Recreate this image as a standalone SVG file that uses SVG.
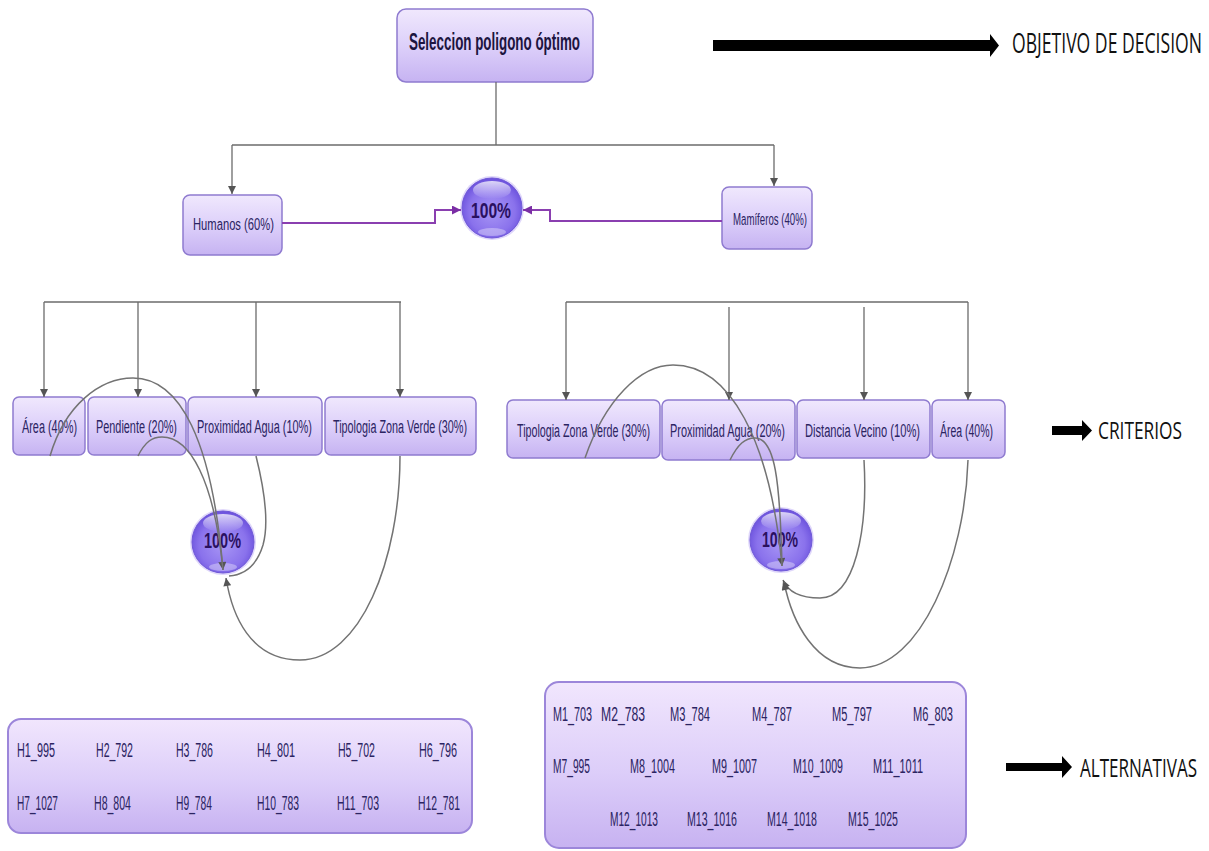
<svg xmlns="http://www.w3.org/2000/svg" width="1209" height="851" viewBox="0 0 1209 851">
<defs>
<linearGradient id="bg" x1="0" y1="0" x2="0" y2="1">
<stop offset="0" stop-color="#f0e8fd"/>
<stop offset="0.5" stop-color="#ddd0fa"/>
<stop offset="1" stop-color="#c6b3f2"/>
</linearGradient>
<linearGradient id="bg2" x1="0" y1="0" x2="0" y2="1">
<stop offset="0" stop-color="#f1e6fd"/>
<stop offset="0.55" stop-color="#dccdf9"/>
<stop offset="1" stop-color="#c7b2f1"/>
</linearGradient>
<radialGradient id="ball" cx="0.5" cy="0.55" r="0.55">
<stop offset="0" stop-color="#a896f5"/>
<stop offset="0.7" stop-color="#8a72ec"/>
<stop offset="1" stop-color="#6a50dc"/>
</radialGradient>
<linearGradient id="hl" x1="0" y1="0" x2="0" y2="1">
<stop offset="0" stop-color="#ffffff" stop-opacity="0.75"/>
<stop offset="1" stop-color="#ffffff" stop-opacity="0"/>
</linearGradient>
<marker id="ag" viewBox="0 0 10 10" refX="10" refY="5" markerWidth="10" markerHeight="8" markerUnits="userSpaceOnUse" orient="auto">
<path d="M0,0 L10,5 L0,10 z" fill="#555"/>
</marker>
<marker id="ap" viewBox="0 0 10 10" refX="10" refY="5" markerWidth="9" markerHeight="9" markerUnits="userSpaceOnUse" orient="auto">
<path d="M0,0 L10,5 L0,10 z" fill="#7b2ea5"/>
</marker>
</defs>
<style>
.box{fill:url(#bg);stroke:#8f7bd0;stroke-width:1.5}
.big{fill:url(#bg2);stroke:#9c86da;stroke-width:2}
.t{font-family:"Liberation Sans",Arial,sans-serif;fill:#2b2462;font-size:19px}
.s{font-size:20px}
.h{font-size:17px}
.tt{font-family:"Liberation Sans",Arial,sans-serif;fill:#1c1440;font-size:24px;font-weight:bold}
.pc{font-family:"Liberation Sans",Arial,sans-serif;fill:#2a1060;font-size:22px;font-weight:bold}
.lab{font-family:"Open Sans","Liberation Sans",sans-serif;fill:#111;font-size:26px}
.g{fill:none;stroke:#6b6b6b;stroke-width:1.3}
.c{fill:none;stroke:#737373;stroke-width:1.5}
.p{fill:none;stroke:#8a3fb0;stroke-width:2}
.blk{fill:#000}
</style>
<rect width="1209" height="851" fill="#ffffff"/>

<g id="title">
<rect class="box" x="397" y="9" width="196" height="73" rx="9"/>
<text class="tt" x="409" y="50" textLength="171" lengthAdjust="spacingAndGlyphs">Seleccion poligono óptimo</text>
</g>

<g id="humanos">
<rect class="box" x="183" y="195" width="99" height="60" rx="7"/>
<g transform="scale(0.6 1)"><text class="t h" x="321.67" y="230" textLength="135" lengthAdjust="spacingAndGlyphs">Humanos (60%)</text></g>
</g>
<g id="mamiferos">
<rect class="box" x="722" y="187" width="90" height="62" rx="7"/>
<g transform="scale(0.6 1)"><text class="t h" x="1221.67" y="225" textLength="123.33" lengthAdjust="spacingAndGlyphs">Mamíferos (40%)</text></g>
</g>

<g id="ball-top">
<circle cx="492" cy="208" r="32" fill="#c9bdf7" opacity="0.6"/>
<circle cx="492" cy="208" r="30" fill="url(#ball)" stroke="#6f58d8" stroke-width="1"/>
<ellipse cx="492" cy="190" rx="19" ry="9" fill="url(#hl)"/>
<ellipse cx="492" cy="232" rx="14" ry="4" fill="#ffffff" opacity="0.35"/>
<text class="pc" x="471" y="218" textLength="40" lengthAdjust="spacingAndGlyphs">100%</text>
</g>

<g id="h-area"><rect class="box" x="13" y="397" width="72" height="58" rx="6"/>
<g transform="scale(0.6 1)"><text class="t" x="36.67" y="433" textLength="91.67" lengthAdjust="spacingAndGlyphs">Área (40%)</text></g></g>
<g id="h-pendiente"><rect class="box" x="88" y="397" width="98" height="58" rx="6"/>
<g transform="scale(0.6 1)"><text class="t" x="160" y="433" textLength="135" lengthAdjust="spacingAndGlyphs">Pendiente (20%)</text></g></g>
<g id="h-agua"><rect class="box" x="188" y="397" width="134" height="58" rx="6"/>
<g transform="scale(0.6 1)"><text class="t" x="328.33" y="433" textLength="191.67" lengthAdjust="spacingAndGlyphs">Proximidad Agua (10%)</text></g></g>
<g id="h-tipologia"><rect class="box" x="325" y="397" width="151" height="58" rx="6"/>
<g transform="scale(0.6 1)"><text class="t" x="555" y="433" textLength="223.33" lengthAdjust="spacingAndGlyphs">Tipologia Zona Verde (30%)</text></g></g>

<g id="m-tipologia"><rect class="box" x="507" y="400" width="153" height="58" rx="6"/>
<g transform="scale(0.6 1)"><text class="t" x="861.67" y="437" textLength="221.67" lengthAdjust="spacingAndGlyphs">Tipologia Zona Verde (30%)</text></g></g>
<g id="m-agua"><rect class="box" x="662" y="400" width="133" height="60" rx="6"/>
<g transform="scale(0.6 1)"><text class="t" x="1116.67" y="437" textLength="191.67" lengthAdjust="spacingAndGlyphs">Proximidad Agua (20%)</text></g></g>
<g id="m-vecino"><rect class="box" x="797" y="400" width="133" height="58" rx="6"/>
<g transform="scale(0.6 1)"><text class="t" x="1341.67" y="437" textLength="191.67" lengthAdjust="spacingAndGlyphs">Distancia Vecino (10%)</text></g></g>
<g id="m-area"><rect class="box" x="932" y="400" width="73" height="58" rx="6"/>
<g transform="scale(0.6 1)"><text class="t" x="1566.67" y="437" textLength="88.33" lengthAdjust="spacingAndGlyphs">Área (40%)</text></g></g>

<g id="ball-left">
<circle cx="223" cy="542" r="33" fill="#c9bdf7" opacity="0.6"/>
<circle cx="223" cy="542" r="31" fill="url(#ball)" stroke="#6f58d8" stroke-width="1"/>
<ellipse cx="223" cy="523" rx="20" ry="9" fill="url(#hl)"/>
<ellipse cx="223" cy="567" rx="14" ry="4" fill="#ffffff" opacity="0.35"/>
<text class="pc" x="204" y="548" textLength="37" lengthAdjust="spacingAndGlyphs">100%</text>
</g>
<g id="ball-right">
<circle cx="781" cy="540" r="33" fill="#c9bdf7" opacity="0.6"/>
<circle cx="781" cy="540" r="31" fill="url(#ball)" stroke="#6f58d8" stroke-width="1"/>
<ellipse cx="781" cy="521" rx="20" ry="9" fill="url(#hl)"/>
<ellipse cx="781" cy="565" rx="14" ry="4" fill="#ffffff" opacity="0.35"/>
<text class="pc" x="762" y="547" textLength="36" lengthAdjust="spacingAndGlyphs">100%</text>
</g>

<g id="alt-humanos">
<rect class="big" x="8" y="719" width="464" height="114" rx="13"/>
<g class="t s" transform="scale(0.6 1)">
<text x="28.33" y="757" textLength="63.33" lengthAdjust="spacingAndGlyphs">H1_995</text>
<text x="160" y="757" textLength="61.67" lengthAdjust="spacingAndGlyphs">H2_792</text>
<text x="293.33" y="757" textLength="61.67" lengthAdjust="spacingAndGlyphs">H3_786</text>
<text x="428.33" y="757" textLength="63.33" lengthAdjust="spacingAndGlyphs">H4_801</text>
<text x="563.33" y="757" textLength="61.67" lengthAdjust="spacingAndGlyphs">H5_702</text>
<text x="698.33" y="757" textLength="63.33" lengthAdjust="spacingAndGlyphs">H6_796</text>
<text x="28.33" y="810" textLength="68.33" lengthAdjust="spacingAndGlyphs">H7_1027</text>
<text x="156.67" y="810" textLength="61.67" lengthAdjust="spacingAndGlyphs">H8_804</text>
<text x="293.33" y="810" textLength="60" lengthAdjust="spacingAndGlyphs">H9_784</text>
<text x="428.33" y="810" textLength="70" lengthAdjust="spacingAndGlyphs">H10_783</text>
<text x="561.67" y="810" textLength="70" lengthAdjust="spacingAndGlyphs">H11_703</text>
<text x="696.67" y="810" textLength="70" lengthAdjust="spacingAndGlyphs">H12_781</text>
</g>
</g>

<g id="alt-mamiferos">
<rect class="big" x="545" y="682" width="421" height="166" rx="14"/>
<g class="t s" transform="scale(0.6 1)">
<text x="921.67" y="721" textLength="65" lengthAdjust="spacingAndGlyphs">M1_703</text>
<text x="1001.67" y="721" textLength="73.33" lengthAdjust="spacingAndGlyphs">M2_783</text>
<text x="1116.67" y="721" textLength="66.67" lengthAdjust="spacingAndGlyphs">M3_784</text>
<text x="1253.33" y="721" textLength="66.67" lengthAdjust="spacingAndGlyphs">M4_787</text>
<text x="1386.67" y="721" textLength="66.67" lengthAdjust="spacingAndGlyphs">M5_797</text>
<text x="1521.67" y="721" textLength="66.67" lengthAdjust="spacingAndGlyphs">M6_803</text>
<text x="921.67" y="773" textLength="61.67" lengthAdjust="spacingAndGlyphs">M7_995</text>
<text x="1050" y="773" textLength="75" lengthAdjust="spacingAndGlyphs">M8_1004</text>
<text x="1186.67" y="773" textLength="75" lengthAdjust="spacingAndGlyphs">M9_1007</text>
<text x="1321.67" y="773" textLength="83.33" lengthAdjust="spacingAndGlyphs">M10_1009</text>
<text x="1455" y="773" textLength="83.33" lengthAdjust="spacingAndGlyphs">M11_1011</text>
<text x="1016.67" y="826" textLength="80" lengthAdjust="spacingAndGlyphs">M12_1013</text>
<text x="1145" y="826" textLength="83.33" lengthAdjust="spacingAndGlyphs">M13_1016</text>
<text x="1278.33" y="826" textLength="83.33" lengthAdjust="spacingAndGlyphs">M14_1018</text>
<text x="1413.33" y="826" textLength="83.33" lengthAdjust="spacingAndGlyphs">M15_1025</text>
</g>
</g>

<g id="label-objetivo">
<polygon class="blk" points="713,40 990,40 990,34 999,45.5 990,57 990,51 713,51"/>
<g transform="scale(0.65 1)"><text class="lab" x="1556.92" y="53" textLength="292.31" lengthAdjust="spacingAndGlyphs" style="font-size:27px">OBJETIVO DE DECISION</text></g>
</g>
<g id="label-criterios">
<polygon class="blk" points="1052,426 1082,426 1082,420 1092,430.5 1082,441 1082,435 1052,435"/>
<g transform="scale(0.71 1)"><text class="lab" x="1546.48" y="439" textLength="118.31" lengthAdjust="spacingAndGlyphs" style="font-size:24px">CRITERIOS</text></g>
</g>
<g id="label-alternativas">
<polygon class="blk" points="1006,763 1062,763 1062,756 1072,767 1062,778 1062,771 1006,771"/>
<g transform="scale(0.65 1)"><text class="lab" x="1661.54" y="777" textLength="180" lengthAdjust="spacingAndGlyphs">ALTERNATIVAS</text></g>
</g>

<g id="connectors">
<path class="g" d="M496,82 V145"/>
<path class="g" d="M232,145 H774"/>
<path class="g" d="M232,145 V194" marker-end="url(#ag)"/>
<path class="g" d="M774,145 V186" marker-end="url(#ag)"/>
<path class="p" d="M282,223 H435 V210 H461" marker-end="url(#ap)"/>
<path class="p" d="M722,221 H550 V210 H523" marker-end="url(#ap)"/>

<path class="g" d="M44,302 H401"/>
<path class="g" d="M44,302 V397" marker-end="url(#ag)"/>
<path class="g" d="M138,302 V397" marker-end="url(#ag)"/>
<path class="g" d="M256,302 V397" marker-end="url(#ag)"/>
<path class="g" d="M400,302 V397" marker-end="url(#ag)"/>

<path class="g" d="M566,302 H968"/>
<path class="g" d="M566,302 V400" marker-end="url(#ag)"/>
<path class="g" d="M729,307 V400" marker-end="url(#ag)"/>
<path class="g" d="M864,307 V400" marker-end="url(#ag)"/>
<path class="g" d="M968,302 V400" marker-end="url(#ag)"/>

<path class="c" d="M50,456 C65,405 100,378 133,378 C180,378 212,440 223,570" marker-end="url(#ag)"/>
<path class="c" d="M138,456 C145,442 152,437 162,437 C190,437 214,480 223,570"/>
<path class="c" d="M256,456 C262,480 270,520 263,545 C256,568 242,575 229,576"/>
<path class="c" d="M400,456 C400,560 360,660 300,660 C250,660 232,615 226,578" marker-end="url(#ag)"/>

<path class="c" d="M585,458 C605,400 640,365 673,365 C730,365 770,440 782,566" marker-end="url(#ag)"/>
<path class="c" d="M730,460 C738,444 745,438 755,438 C775,438 780,480 782,566"/>
<path class="c" d="M864,460 C868,530 855,598 820,598 C800,598 788,592 783,580" marker-end="url(#ag)"/>
<path class="c" d="M968,460 C965,560 920,668 860,668 C815,668 792,622 784,582" marker-end="url(#ag)"/>
</g>
</svg>
